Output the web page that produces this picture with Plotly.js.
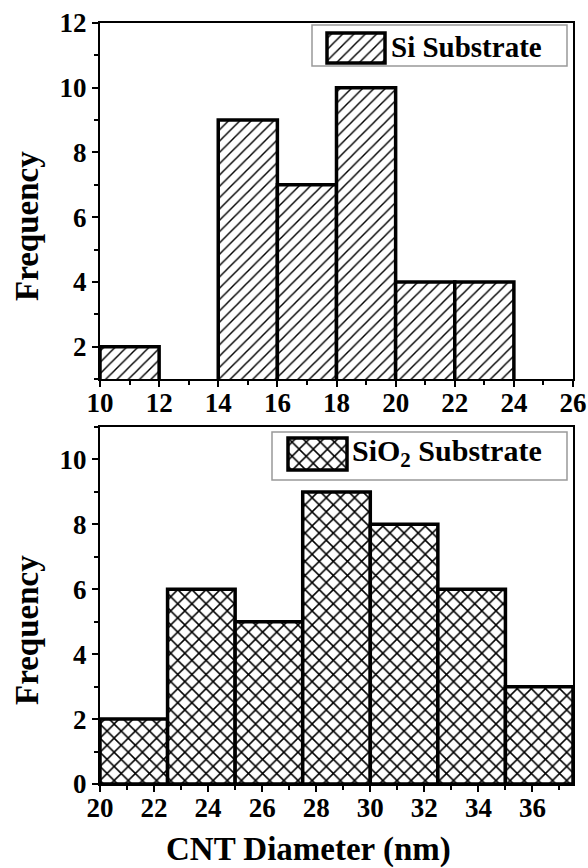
<!DOCTYPE html>
<html>
<head>
<meta charset="utf-8">
<script src="https://cdn.plot.ly/plotly-3.0.1.min.js"></script>
<style>html,body{margin:0;padding:0;background:#fff;}#chart{width:588px;height:868px;}</style>
</head>
<body>
<div id="chart"></div>
<script>
// ---- data ----
const siBinStart = [10, 14, 16, 18, 20, 22];
const siCounts = [2, 9, 7, 10, 4, 4];
const siBinWidth = 2;

const sio2BinStart = [20, 22.5, 25, 27.5, 30, 32.5, 35];
const sio2Counts = [2, 6, 5, 9, 8, 6, 3];
const sio2BinWidth = 2.5;

const siLabel = 'Si Substrate';
const sio2Label = 'SiO<sub>2</sub> Substrate';
const xTitle = 'CNT Diameter (nm)';
const yTitle = 'Frequency';

// ---- geometry helpers (pixel -> paper) ----
const W = 588, H = 868;
const L = 100, R = 15, T = 23, B = 84;
const PW = W - L - R, PH = H - T - B;
const px = v => (v - L) / PW;
const py = v => (H - B - v) / PH;

const FONT = 'Liberation Serif, Times New Roman, serif';

const siPattern = {shape: '/', size: 8, solidity: 0.18, fgcolor: 'black', bgcolor: 'white', fillmode: 'replace'};
const sio2Pattern = {shape: 'x', size: 10, solidity: 0.28, fgcolor: 'black', bgcolor: 'white', fillmode: 'replace'};

const traces = [
  {
    type: 'bar', xaxis: 'x', yaxis: 'y',
    x: siBinStart.map(s => s + siBinWidth / 2),
    y: siCounts,
    width: siBinStart.map(() => siBinWidth),
    marker: {color: 'white', line: {color: 'black', width: 3.5}, pattern: siPattern},
    showlegend: false, hoverinfo: 'skip'
  },
  {
    type: 'bar', xaxis: 'x2', yaxis: 'y2',
    x: sio2BinStart.map(s => s + sio2BinWidth / 2),
    y: sio2Counts,
    width: sio2BinStart.map(() => sio2BinWidth),
    marker: {color: 'white', line: {color: 'black', width: 3.5}, pattern: sio2Pattern},
    showlegend: false, hoverinfo: 'skip'
  },
  // legend swatches
  {
    type: 'bar', xaxis: 'x3', yaxis: 'y3', x: [0], y: [1], width: [1],
    marker: {color: 'white', line: {color: 'black', width: 3.5}, pattern: siPattern},
    showlegend: false, hoverinfo: 'skip'
  },
  {
    type: 'bar', xaxis: 'x4', yaxis: 'y4', x: [0], y: [1], width: [1],
    marker: {color: 'white', line: {color: 'black', width: 3.5}, pattern: sio2Pattern},
    showlegend: false, hoverinfo: 'skip'
  }
];

function mainAxis(extra) {
  return Object.assign({
    showline: true, linecolor: 'black', linewidth: 2, mirror: true,
    showgrid: false, zeroline: false,
    ticks: 'outside', ticklen: 6, tickwidth: 2, tickcolor: 'black',
    tickfont: {family: FONT, size: 27, color: 'black', weight: 'bold'},
    minor: {ticks: 'outside', ticklen: 4, tickwidth: 2, tickcolor: 'black', dtick: 1}
  }, extra);
}

// swatch axes: bar spans [-0.5,0.5] x [0,1]; pad by ~3px
function swatch(x0, x1, y0, y1) {
  const pad = 3;
  const ux = 1 / (x1 - x0), uy = 1 / (y1 - y0);
  return {
    xdom: [px(x0 - pad), px(x1 + pad)],
    ydom: [py(y1 + pad), py(y0 - pad)],
    xr: [-0.5 - pad * ux, 0.5 + pad * ux],
    yr: [0 - pad * uy, 1 + pad * uy]
  };
}
const s1 = swatch(327, 385, 33, 63);
const s2 = swatch(288, 347, 438, 470);
const hidden = {visible: false, fixedrange: true};

const layout = {
  width: W, height: H,
  margin: {l: L, r: R, t: T, b: B},
  paper_bgcolor: 'white', plot_bgcolor: 'white',
  showlegend: false,
  bargap: 0,
  font: {family: FONT, color: 'black'},
  xaxis: mainAxis({anchor: 'y', domain: [0, 1], range: [10, 26], dtick: 2, tick0: 0, ticklabelstandoff: -7}),
  yaxis: mainAxis({anchor: 'x', domain: [py(379), 1], range: [1, 12], dtick: 2, tick0: 0}),
  xaxis2: mainAxis({anchor: 'y2', domain: [0, 1], range: [20, 37.5], dtick: 2, tick0: 0, ticklabelstandoff: -7}),
  yaxis2: mainAxis({anchor: 'x2', domain: [0, py(427)], range: [0, 11], dtick: 2, tick0: 0}),
  xaxis3: Object.assign({anchor: 'y3', domain: s1.xdom, range: s1.xr}, hidden),
  yaxis3: Object.assign({anchor: 'x3', domain: s1.ydom, range: s1.yr}, hidden),
  xaxis4: Object.assign({anchor: 'y4', domain: s2.xdom, range: s2.xr}, hidden),
  yaxis4: Object.assign({anchor: 'x4', domain: s2.ydom, range: s2.yr}, hidden),
  shapes: [
    {type: 'rect', xref: 'paper', yref: 'paper', x0: px(312), x1: px(567), y0: py(66), y1: py(25),
     line: {color: '#999999', width: 1.5}, fillcolor: 'rgba(0,0,0,0)'},
    {type: 'rect', xref: 'paper', yref: 'paper', x0: px(272), x1: px(567), y0: py(480), y1: py(432),
     line: {color: '#999999', width: 1.5}, fillcolor: 'rgba(0,0,0,0)'}
  ],
  annotations: [
    {text: siLabel, xref: 'paper', yref: 'paper', x: px(389), y: py(47), xanchor: 'left', yanchor: 'middle',
     showarrow: false, font: {family: FONT, size: 29, color: 'black', weight: 'bold'}},
    {text: sio2Label, xref: 'paper', yref: 'paper', x: px(350), y: py(453), xanchor: 'left', yanchor: 'middle',
     showarrow: false, font: {family: FONT, size: 30, color: 'black', weight: 'bold'}},
    {text: yTitle, xref: 'paper', yref: 'paper', x: px(27), y: py(226), xanchor: 'center', yanchor: 'middle',
     textangle: -90, showarrow: false, font: {family: FONT, size: 33, color: 'black', weight: 'bold'}},
    {text: yTitle, xref: 'paper', yref: 'paper', x: px(27), y: py(630), xanchor: 'center', yanchor: 'middle',
     textangle: -90, showarrow: false, font: {family: FONT, size: 33, color: 'black', weight: 'bold'}},
    {text: xTitle, xref: 'paper', yref: 'paper', x: px(308), y: py(849), xanchor: 'center', yanchor: 'middle',
     showarrow: false, font: {family: FONT, size: 33, color: 'black', weight: 'bold'}}
  ]
};

Plotly.newPlot('chart', traces, layout, {staticPlot: true, displayModeBar: false});
</script>
</body>
</html>
